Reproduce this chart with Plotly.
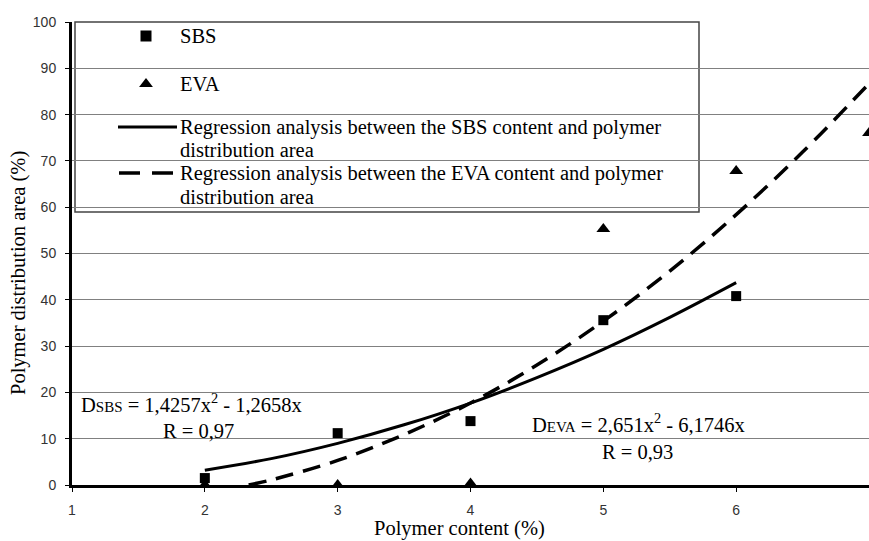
import plotly.graph_objects as go

# ---- data ----
sbs_content = [2, 3, 4, 5, 6]
sbs_area = [1.5, 11.2, 13.8, 35.6, 40.8]
eva_content = [2, 3, 4, 5, 6, 7]
eva_area = [0.0, 0.0, 0.3, 55.3, 67.8, 76.0]

sbs_fit_x = [2, 2.5, 3, 3.5, 4, 4.5, 5, 5.5, 6]
sbs_fit_y = [3.2, 5.7, 9.0, 13.0, 17.7, 23.2, 29.3, 36.2, 43.7]
eva_fit_x = [2.33, 2.5, 3, 3.5, 4, 4.5, 5, 5.5, 6, 6.5, 7]
eva_fit_y = [0.0, 1.1, 5.3, 10.9, 17.7, 25.9, 35.4, 46.2, 58.4, 71.9, 86.7]

x_ticks = [1, 2, 3, 4, 5, 6, 7]
y_ticks = list(range(0, 101, 10))

legend_labels = ["SBS", "EVA",
                 "Regression analysis between the SBS content and polymer",
                 "distribution area",
                 "Regression analysis between the EVA content and polymer",
                 "distribution area"]
eq_sbs = "D<span style='font-size:15px'>SBS</span> = 1,4257x<sup>2</sup> - 1,2658x"
r_sbs = "R = 0,97"
eq_eva = "D<span style='font-size:15px'>EVA</span> = 2,651x<sup>2</sup> - 6,1746x"
r_eva = "R = 0,93"
x_title = "Polymer content (%)"
y_title = "Polymer distribution area (%)"

SERIF = "Liberation Serif"
SANS = "Liberation Sans"
TXT = 20.5

# plot-area pixel frame (layout helpers)
L, R_, T, B = 72, 869, 22, 485


def px(x):
    return (x - L) / (R_ - L)


def py(y):
    return (B - y) / (B - T)


fig = go.Figure()

fig.add_trace(go.Scatter(x=sbs_fit_x, y=sbs_fit_y, mode="lines", line_shape="spline",
                         line=dict(color="black", width=3), showlegend=False, hoverinfo="skip"))
fig.add_trace(go.Scatter(x=eva_fit_x, y=eva_fit_y, mode="lines", line_shape="spline",
                         line=dict(color="black", width=3.5, dash="18px,10px"),
                         showlegend=False, hoverinfo="skip"))
fig.add_trace(go.Scatter(x=sbs_content, y=sbs_area, mode="markers",
                         marker=dict(symbol="square", size=10, color="black"),
                         showlegend=False, cliponaxis=False))
fig.add_trace(go.Scatter(x=eva_content, y=eva_area, mode="markers",
                         marker=dict(symbol="triangle-up", size=12, color="black"),
                         showlegend=False, cliponaxis=False))

# ---- legend samples on an overlay axis spanning the plot area ----
fig.add_trace(go.Scatter(x=[px(146)], y=[py(36)], xaxis="x2", yaxis="y2", mode="markers",
                         marker=dict(symbol="square", size=11, color="black"),
                         showlegend=False, hoverinfo="skip"))
fig.add_trace(go.Scatter(x=[px(146)], y=[py(84)], xaxis="x2", yaxis="y2", mode="markers",
                         marker=dict(symbol="triangle-up", size=12, color="black"),
                         showlegend=False, hoverinfo="skip"))
fig.add_trace(go.Scatter(x=[px(118), px(177)], y=[py(127), py(127)], xaxis="x2", yaxis="y2",
                         mode="lines", line=dict(color="black", width=3),
                         showlegend=False, hoverinfo="skip"))
fig.add_trace(go.Scatter(x=[px(119), px(173)], y=[py(173), py(173)], xaxis="x2", yaxis="y2",
                         mode="lines", line=dict(color="black", width=3.5, dash="21px,12px"),
                         showlegend=False, hoverinfo="skip"))

shapes = [dict(type="rect", xref="paper", yref="paper", x0=px(75), x1=px(699),
               y0=py(212), y1=py(22), fillcolor="white",
               line=dict(color="#444", width=1.5), layer="between")]

annotations = []
legend_y = [36, 84, 127, 150, 173, 197]
for lab, yy in zip(legend_labels, legend_y):
    annotations.append(dict(xref="paper", yref="paper", x=px(178), y=py(yy), text=lab,
                            showarrow=False, xanchor="left", yanchor="middle",
                            font=dict(family=SERIF, size=TXT, color="black")))

annotations += [
    dict(xref="paper", yref="paper", x=px(79), y=py(403), text=eq_sbs, showarrow=False,
         xanchor="left", yanchor="middle", font=dict(family=SERIF, size=TXT, color="black")),
    dict(xref="paper", yref="paper", x=px(198), y=py(431), text=r_sbs, showarrow=False,
         xanchor="center", yanchor="middle", font=dict(family=SERIF, size=TXT, color="black")),
    dict(xref="paper", yref="paper", x=px(530), y=py(423), text=eq_eva, showarrow=False,
         xanchor="left", yanchor="middle", font=dict(family=SERIF, size=TXT, color="black")),
    dict(xref="paper", yref="paper", x=px(637), y=py(452), text=r_eva, showarrow=False,
         xanchor="center", yanchor="middle", font=dict(family=SERIF, size=TXT, color="black")),
    dict(xref="paper", yref="paper", x=px(459), y=py(528), text=x_title, showarrow=False,
         xanchor="center", yanchor="middle", font=dict(family=SERIF, size=TXT, color="black")),
    dict(xref="paper", yref="paper", x=px(18), y=py(273), text=y_title, showarrow=False,
         textangle=-90, xanchor="center", yanchor="middle",
         font=dict(family=SERIF, size=TXT, color="black")),
]

fig.update_layout(
    width=869, height=541,
    margin=dict(l=L, r=869 - R_, t=T, b=541 - B, autoexpand=False),
    paper_bgcolor="white", plot_bgcolor="white",
    showlegend=False,
    xaxis=dict(range=[1, 7], tickvals=x_ticks, ticktext=[str(v) for v in x_ticks],
               showgrid=False, zeroline=False, showline=True, linecolor="black", linewidth=3,
               ticks="outside", ticklen=4, tickcolor="black", ticklabelstandoff=6,
               tickfont=dict(family=SANS, size=14, color="#333")),
    yaxis=dict(range=[0, 100], tickvals=y_ticks, showgrid=True, gridcolor="#808080",
               gridwidth=1, zeroline=False, showline=True, linecolor="black", linewidth=3,
               ticks="outside", ticklen=4, tickcolor="black", ticklabelstandoff=6,
               tickfont=dict(family=SANS, size=14, color="#333")),
    xaxis2=dict(overlaying="x", anchor="y2", range=[0, 1], visible=False),
    yaxis2=dict(overlaying="y", anchor="x2", range=[0, 1], visible=False),
    shapes=shapes,
    annotations=annotations,
)

fig.write_html("out.html", config={"displayModeBar": False},
               post_script="document.body.style.margin='0';document.body.style.overflow='hidden';")
